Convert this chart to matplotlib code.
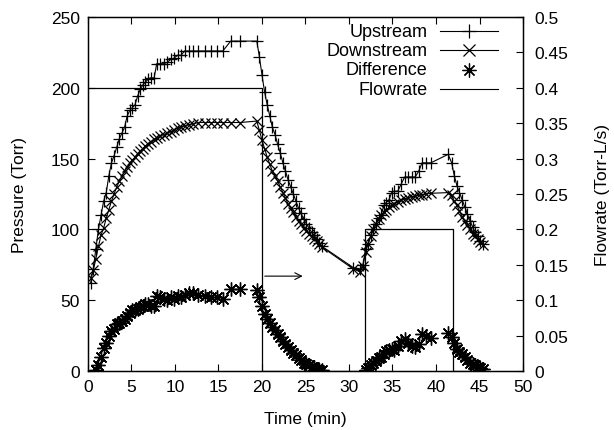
import numpy as np
import matplotlib
matplotlib.use("Agg")
import matplotlib.pyplot as plt

plt.rcParams['font.family'] = ['Liberation Sans', 'DejaVu Sans']
plt.rcParams['font.size'] = 12

# first fill (flow on)
fill1_t = [0.3, 0.6, 0.9, 1.2, 1.5, 1.8, 2.1, 2.4, 2.7, 3.0,
           3.3, 3.6, 3.9, 4.2, 4.5, 4.8, 5.1, 5.4, 5.7, 6.0,
           6.3, 6.6, 6.9, 7.2, 7.6, 7.9, 8.3, 8.7, 9.1, 9.5,
           9.9, 10.3, 10.7, 11.1, 11.6, 12.1, 12.7, 13.4, 14.1, 14.8,
           15.5, 16.4, 17.5, 19.4]
fill1_up = [62, 72, 86, 100, 110, 120, 126, 138, 147, 152,
            158, 164, 168, 172, 180, 184, 186, 188, 194, 199,
            202, 204, 206, 207, 207, 217, 217, 217, 218, 220,
            221, 223, 223, 226, 226, 226, 226, 226, 226, 226,
            226, 233, 233, 233]
fill1_down = [66, 71, 79, 88, 96, 101, 108, 114, 120, 125,
              130, 134, 137.5, 141, 144, 147, 149, 151, 153.5, 155.5,
              157, 159, 160.5, 162, 163.5, 164.5, 166, 167, 168, 169,
              170.5, 171.5, 172.5, 173, 174, 174.5, 175.5, 175.5, 175.5, 175.5,
              175.5, 175.5, 175.5, 176.5]
fill1_diff = [np.nan, np.nan, 1, 4, 10, 16, 20, 25, 28, 30,
              33, 34, 35, 37, 39, 41, 43, 43, 44, 45,
              46, 47, 47, 46, 46, 53, 52, 51, 50, 52,
              51, 53, 52, 54, 55, 55, 54, 53, 52, 52,
              51, 58, 58, 57]

# first decay (flow off)
decay1_t = [19.7, 20.0, 20.3, 20.6, 20.9, 21.2, 21.5, 21.8, 22.1, 22.4,
            22.7, 23.0, 23.3, 23.6, 23.9, 24.2, 24.5, 24.8, 25.1, 25.4,
            25.7, 26.0, 26.3, 26.6, 26.9, 30.5, 31.3]
decay1_up = [222, 209, 197, 188, 180, 172, 167, 160, 154, 147,
             141, 135, 130, 125, 120, 115, 111.5, 107, 104, 101,
             98, 96, 93, 90.5, 88, 73, 72]
decay1_down = [170, 163, 157, 151, 146, 141, 138, 134, 130, 126,
               122, 118, 115, 112, 109, 106, 104, 101, 99, 97,
               95, 93.5, 91.5, 89.5, 87.5, 72, 70]
decay1_diff = [52, 46, 40, 37, 34, 31, 29, 26, 24, 21,
               19, 17, 15, 13, 11, 9, 7.5, 6, 5, 4,
               3, 2.5, 1.5, 1, 0.5, np.nan, np.nan]

# second fill
fill2_t = [31.6, 31.9, 32.2, 32.5, 32.8, 33.1, 33.4, 33.7, 34.0, 34.3,
           34.6, 34.9, 35.2, 35.6, 36.0, 36.4, 36.8, 37.2, 37.6, 38.0,
           38.4, 38.9, 39.4, 41.4]
fill2_up = [75, 86, 90, 96, 100, 104, 108, 110, 117, 119,
            121, 126, 127, 127, 132, 137, 137, 137, 137, 141,
            147, 147, 147, 153]
fill2_down = [74, 84, 90, 95, 100, 104, 107, 110, 112, 114,
              115.5, 117, 118, 119.5, 120.5, 121.5, 122.5, 123, 123.5, 124,
              124.5, 125, 125.5, 126]
fill2_diff = [np.nan, 0.5, 2, 4, 5.5, 7, 9, 10, 12, 14,
              15, 15.5, 15, 18, 21, 22.5, 20, 18, 17, 19,
              26, 25, 23, 27]

# second decay
decay2_t = [41.8, 42.1, 42.4, 42.7, 43.0, 43.3, 43.6, 43.9, 44.2, 44.5,
            44.8, 45.1, 45.4]
decay2_up = [147, 138, 131, 126, 121, 116, 111, 106, 102, 98, 95, 92, 90]
decay2_down = [124, 120, 117, 113, 109, 106, 103, 100, 97, 95, 93, 91, 89]
decay2_diff = [24, 20, 15.5, 13.5, 12, 10, 8, 6, 5, 4, 3, 2, 1.4]

# flowrate steps
flow_t = [0, 20, 20, 31.8, 31.8, 41.9, 41.9, 46]
flow_q = [0.4, 0.4, 0, 0, 0.2, 0.2, 0, 0]

t = np.array(fill1_t + decay1_t + fill2_t + decay2_t)
up = np.array(fill1_up + decay1_up + fill2_up + decay2_up)
down = np.array(fill1_down + decay1_down + fill2_down + decay2_down)
diff = np.array(fill1_diff + decay1_diff + fill2_diff + decay2_diff)

star = (8, 2, 0)  # gnuplot-style asterisk (+ and x together)

fig = plt.figure(figsize=(6.14, 4.31), dpi=100)
ax = fig.add_axes([0.1433, 0.1369, 0.7085, 0.8213])
ax2 = ax.twinx()

ax.plot(t, up, color='black', lw=0.8, marker='+', ms=8.5, mew=0.9)
ax.plot(t, down, color='black', lw=0.8, marker='x', ms=7.5, mew=0.9)
ax.plot(t, diff, color='black', lw=0, marker=star, ms=10, mew=1.0)
ax2.plot(flow_t, flow_q, color='black', lw=0.9)

# arrow pointing to the flowrate axis
ax2.annotate('', xy=(25, 0.134), xytext=(20, 0.134),
             arrowprops=dict(arrowstyle='->', color='black', lw=0.8))

ax.set_xlim(0, 50)
ax.set_ylim(0, 250)
ax2.set_ylim(0, 0.5)
ax.set_xticks(np.arange(0, 51, 5))
ax.set_yticks(np.arange(0, 251, 50))
ax2.set_yticks(np.arange(0, 0.501, 0.05))
ax2.set_yticklabels(['0', '0.05', '0.1', '0.15', '0.2', '0.25', '0.3',
                     '0.35', '0.4', '0.45', '0.5'])
ax.tick_params(direction='in', length=5, top=True, labelsize=12.5, pad=6)
ax2.tick_params(direction='in', length=5, labelsize=12.5, pad=8)

ax.set_xlabel('Time (min)', fontsize=12.5, labelpad=12)
ax.set_ylabel('Pressure (Torr)', fontsize=12.5, labelpad=17)
ax2.set_ylabel('Flowrate (Torr-L/s)', fontsize=12.5, labelpad=19)

# gnuplot-like key: text right aligned, sample on the right
key_names = ['Upstream', 'Downstream', 'Difference', 'Flowrate']
key_marks = ['+', 'x', star, None]
key_sizes = [10, 9, 10, 0]
key_lines = [True, True, False, True]
for i, name in enumerate(key_names):
    y = 0.960 - i * 0.0545
    ax.text(0.78, y, name, transform=ax.transAxes, ha='right', va='center',
            fontsize=13)
    if key_lines[i]:
        ax.plot([0.809, 0.943], [y, y], transform=ax.transAxes,
                color='black', lw=0.8, clip_on=False)
    if key_marks[i] is not None:
        ax.plot([0.876], [y], transform=ax.transAxes, color='black',
                marker=key_marks[i], ms=key_sizes[i], mew=0.9, lw=0)

for s in ax.spines.values():
    s.set_linewidth(1.0)

fig.savefig('out.png', dpi=100)
